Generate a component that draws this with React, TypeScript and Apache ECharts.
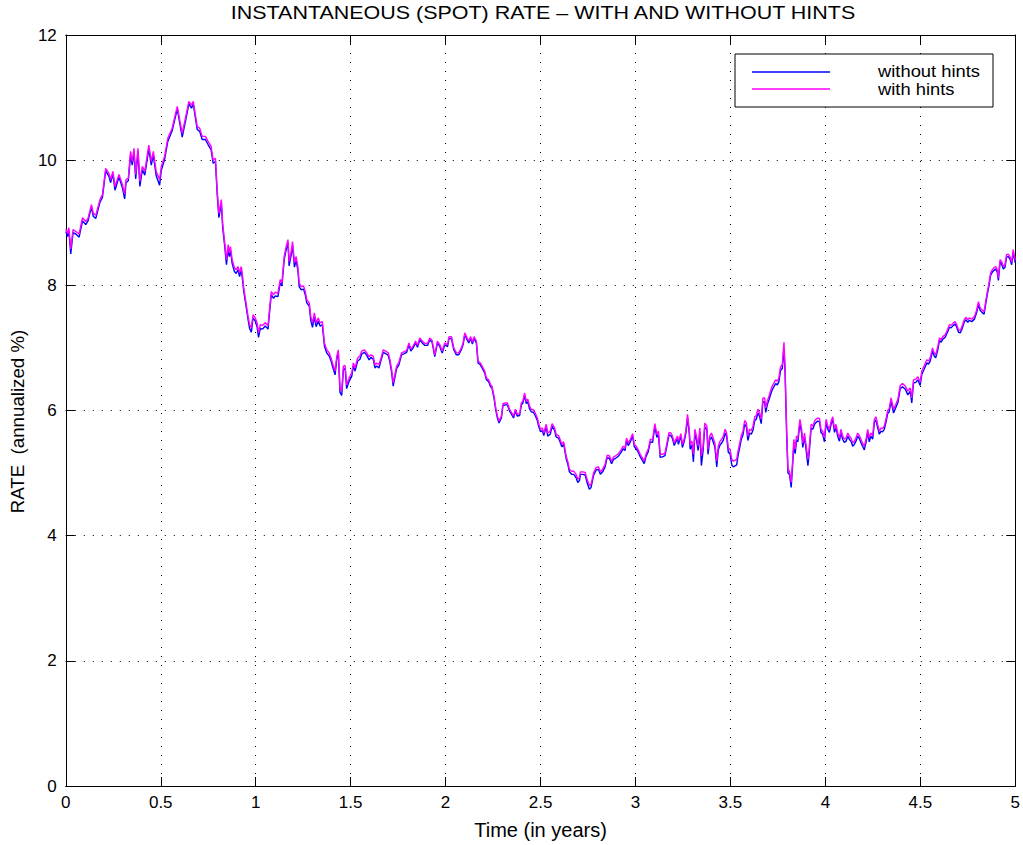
import React, { useEffect, useRef } from "react";
import * as echarts from "echarts";

const times: number[] = [
  0.000, 0.009, 0.016, 0.026, 0.038, 0.053, 0.070, 0.088, 0.105, 0.117,
  0.135, 0.145, 0.158, 0.180, 0.193, 0.210, 0.227, 0.236, 0.248, 0.259,
  0.280, 0.298, 0.310, 0.317, 0.329, 0.341, 0.350, 0.359, 0.368, 0.380,
  0.390, 0.403, 0.416, 0.437, 0.450, 0.461, 0.476, 0.494, 0.503, 0.520,
  0.537, 0.560, 0.587, 0.600, 0.613, 0.630, 0.648, 0.662, 0.671, 0.692,
  0.705, 0.718, 0.735, 0.749, 0.765, 0.776, 0.788, 0.797, 0.806, 0.819,
  0.826, 0.837, 0.846, 0.855, 0.861, 0.867, 0.876, 0.888, 0.897, 0.907,
  0.915, 0.924, 0.931, 0.936, 0.949, 0.960, 0.968, 0.977, 0.986, 0.998,
  1.007, 1.015, 1.024, 1.036, 1.050, 1.065, 1.071, 1.082, 1.094, 1.103,
  1.117, 1.129, 1.138, 1.150, 1.159, 1.170, 1.176, 1.187, 1.194, 1.204,
  1.213, 1.222, 1.229, 1.239, 1.252, 1.261, 1.269, 1.282, 1.290, 1.299,
  1.309, 1.318, 1.330, 1.339, 1.351, 1.362, 1.374, 1.387, 1.397, 1.404,
  1.418, 1.427, 1.435, 1.444, 1.453, 1.462, 1.471, 1.479, 1.492, 1.506,
  1.514, 1.523, 1.537, 1.549, 1.558, 1.572, 1.585, 1.597, 1.607, 1.619,
  1.628, 1.637, 1.649, 1.660, 1.672, 1.684, 1.698, 1.707, 1.716, 1.724,
  1.742, 1.754, 1.768, 1.782, 1.795, 1.807, 1.817, 1.829, 1.842, 1.852,
  1.864, 1.877, 1.891, 1.905, 1.917, 1.929, 1.943, 1.957, 1.970, 1.982,
  1.996, 2.010, 2.018, 2.031, 2.043, 2.057, 2.069, 2.083, 2.092, 2.101,
  2.113, 2.122, 2.132, 2.141, 2.150, 2.162, 2.171, 2.183, 2.192, 2.206,
  2.215, 2.227, 2.237, 2.244, 2.255, 2.264, 2.273, 2.281, 2.294, 2.302,
  2.315, 2.325, 2.337, 2.349, 2.358, 2.367, 2.378, 2.390, 2.399, 2.407,
  2.416, 2.425, 2.433, 2.442, 2.451, 2.463, 2.472, 2.483, 2.491, 2.500,
  2.509, 2.517, 2.530, 2.538, 2.551, 2.561, 2.574, 2.582, 2.595, 2.605,
  2.612, 2.622, 2.635, 2.643, 2.652, 2.664, 2.675, 2.687, 2.696, 2.705,
  2.710, 2.722, 2.735, 2.745, 2.757, 2.766, 2.780, 2.793, 2.805, 2.815,
  2.827, 2.840, 2.850, 2.862, 2.874, 2.885, 2.897, 2.910, 2.924, 2.936,
  2.945, 2.953, 2.962, 2.973, 2.985, 2.994, 3.003, 3.015, 3.025, 3.037,
  3.046, 3.055, 3.067, 3.078, 3.090, 3.102, 3.113, 3.121, 3.130, 3.142,
  3.155, 3.165, 3.177, 3.186, 3.195, 3.204, 3.213, 3.221, 3.226, 3.239,
  3.247, 3.256, 3.265, 3.274, 3.283, 3.288, 3.297, 3.305, 3.313, 3.321,
  3.330, 3.339, 3.347, 3.356, 3.365, 3.376, 3.382, 3.391, 3.400, 3.409,
  3.418, 3.428, 3.436, 3.445, 3.454, 3.463, 3.472, 3.480, 3.489, 3.498,
  3.507, 3.515, 3.533, 3.540, 3.549, 3.557, 3.566, 3.575, 3.584, 3.592,
  3.601, 3.610, 3.619, 3.628, 3.636, 3.645, 3.654, 3.662, 3.671, 3.680,
  3.686, 3.694, 3.703, 3.712, 3.720, 3.729, 3.738, 3.747, 3.755, 3.764,
  3.773, 3.782, 3.788, 3.796, 3.803, 3.811, 3.820, 3.827, 3.834, 3.841,
  3.848, 3.855, 3.866, 3.875, 3.881, 3.890, 3.899, 3.908, 3.915, 3.925,
  3.934, 3.943, 3.951, 3.960, 3.969, 3.977, 3.986, 3.995, 4.004, 4.013,
  4.021, 4.030, 4.039, 4.048, 4.056, 4.065, 4.074, 4.082, 4.091, 4.100,
  4.109, 4.118, 4.126, 4.135, 4.144, 4.153, 4.161, 4.170, 4.179, 4.187,
  4.196, 4.205, 4.214, 4.223, 4.231, 4.240, 4.249, 4.258, 4.266, 4.275,
  4.284, 4.293, 4.301, 4.310, 4.319, 4.328, 4.336, 4.346, 4.359, 4.371,
  4.382, 4.394, 4.406, 4.421, 4.434, 4.447, 4.455, 4.464, 4.476, 4.487,
  4.499, 4.508, 4.520, 4.534, 4.543, 4.552, 4.564, 4.573, 4.581, 4.592,
  4.601, 4.610, 4.618, 4.631, 4.643, 4.653, 4.662, 4.674, 4.683, 4.692,
  4.701, 4.710, 4.718, 4.731, 4.739, 4.750, 4.758, 4.771, 4.785, 4.797,
  4.806, 4.815, 4.827, 4.836, 4.844, 4.853, 4.862, 4.870, 4.879, 4.888,
  4.897, 4.905, 4.911, 4.920, 4.928, 4.937, 4.946, 4.954, 4.963, 4.972,
  4.981, 4.989, 5.000,
];

const withHints: number[] = [
  8.90, 8.83, 8.92, 8.58, 8.89, 8.86, 8.82, 9.08, 9.02, 9.07,
  9.29, 9.15, 9.12, 9.37, 9.45, 9.87, 9.79, 9.69, 9.82, 9.58,
  9.77, 9.61, 9.46, 9.69, 9.71, 10.14, 9.98, 10.19, 9.77, 10.19,
  9.66, 9.90, 9.82, 10.24, 9.98, 10.14, 9.82, 9.69, 9.90, 10.06,
  10.35, 10.51, 10.86, 10.64, 10.43, 10.67, 10.94, 10.88, 10.94, 10.54,
  10.51, 10.38, 10.38, 10.30, 10.22, 10.00, 10.03, 9.53, 9.15, 9.37,
  8.99, 8.68, 8.41, 8.65, 8.52, 8.62, 8.41, 8.28, 8.25, 8.30,
  8.20, 8.30, 8.14, 7.98, 7.72, 7.50, 7.37, 7.32, 7.53, 7.48,
  7.40, 7.24, 7.37, 7.36, 7.40, 7.36, 7.56, 7.90, 7.85, 7.89,
  7.87, 8.09, 8.04, 8.46, 8.60, 8.73, 8.38, 8.54, 8.70, 8.36,
  8.46, 8.30, 8.04, 7.98, 7.99, 7.90, 7.77, 7.72, 7.50, 7.40,
  7.56, 7.40, 7.48, 7.40, 7.42, 7.08, 6.97, 6.92, 6.84, 6.76,
  6.63, 6.87, 6.97, 6.36, 6.31, 6.71, 6.72, 6.41, 6.52, 6.60,
  6.76, 6.68, 6.84, 6.87, 6.95, 6.97, 6.92, 6.86, 6.89, 6.87,
  6.73, 6.76, 6.73, 6.84, 6.97, 6.95, 6.92, 6.81, 6.65, 6.44,
  6.71, 6.77, 6.92, 6.94, 6.96, 7.08, 6.98, 7.03, 7.11, 7.04,
  7.16, 7.11, 7.07, 7.07, 7.16, 7.12, 6.89, 7.11, 7.05, 6.95,
  7.08, 7.05, 7.18, 7.18, 7.00, 6.92, 6.92, 7.00, 7.08, 7.24,
  7.16, 7.11, 7.18, 7.09, 7.18, 7.11, 6.79, 6.76, 6.71, 6.63,
  6.52, 6.49, 6.41, 6.39, 6.23, 6.04, 5.91, 5.83, 5.91, 6.11,
  6.12, 6.12, 6.02, 5.96, 5.91, 6.02, 5.94, 5.95, 6.12, 6.15,
  6.28, 6.15, 6.18, 6.07, 6.02, 6.01, 5.96, 5.88, 5.78, 5.70,
  5.72, 5.64, 5.78, 5.64, 5.67, 5.79, 5.72, 5.62, 5.60, 5.52,
  5.46, 5.50, 5.27, 5.19, 5.06, 5.03, 5.03, 4.98, 4.90, 4.93,
  5.02, 5.02, 5.01, 4.90, 4.80, 4.82, 5.01, 5.09, 5.10, 5.02,
  5.06, 5.14, 5.28, 5.28, 5.19, 5.26, 5.28, 5.31, 5.37, 5.43,
  5.40, 5.56, 5.48, 5.54, 5.63, 5.46, 5.43, 5.37, 5.30, 5.24,
  5.19, 5.30, 5.38, 5.54, 5.53, 5.79, 5.62, 5.67, 5.30, 5.30,
  5.32, 5.47, 5.65, 5.64, 5.59, 5.48, 5.54, 5.59, 5.51, 5.63,
  5.46, 5.54, 5.67, 5.94, 5.70, 5.46, 5.51, 5.30, 5.70, 5.59,
  5.43, 5.72, 5.27, 5.43, 5.80, 5.75, 5.38, 5.59, 5.64, 5.56,
  5.48, 5.19, 5.43, 5.51, 5.54, 5.59, 5.70, 5.64, 5.40, 5.38,
  5.22, 5.19, 5.22, 5.35, 5.48, 5.60, 5.67, 5.84, 5.80, 5.59,
  5.70, 5.68, 5.75, 5.90, 5.92, 6.02, 5.96, 5.86, 6.20, 6.20,
  6.04, 6.15, 6.23, 6.32, 6.39, 6.44, 6.49, 6.47, 6.52, 6.70,
  6.73, 7.09, 6.65, 5.70, 5.06, 5.03, 4.85, 5.17, 5.54, 5.38,
  5.59, 5.56, 5.86, 5.70, 5.48, 5.64, 5.43, 5.22, 5.40, 5.78,
  5.75, 5.83, 5.86, 5.88, 5.87, 5.70, 5.67, 5.56, 5.86, 5.75,
  5.70, 5.83, 5.90, 5.70, 5.78, 5.64, 5.56, 5.70, 5.59, 5.54,
  5.56, 5.64, 5.59, 5.56, 5.48, 5.51, 5.56, 5.64, 5.60, 5.54,
  5.48, 5.43, 5.54, 5.70, 5.56, 5.64, 5.60, 5.86, 5.90, 5.78,
  5.67, 5.72, 5.71, 5.75, 5.86, 6.00, 6.03, 6.20, 6.02, 6.10,
  6.18, 6.40, 6.43, 6.39, 6.31, 6.36, 6.20, 6.49, 6.50, 6.54,
  6.45, 6.63, 6.71, 6.81, 6.79, 6.84, 7.00, 6.92, 6.89, 7.02,
  7.16, 7.13, 7.18, 7.21, 7.29, 7.37, 7.36, 7.40, 7.42, 7.37,
  7.29, 7.28, 7.33, 7.45, 7.49, 7.45, 7.48, 7.46, 7.50, 7.61,
  7.74, 7.64, 7.60, 7.58, 7.74, 7.90, 8.04, 8.20, 8.25, 8.28,
  8.30, 8.25, 8.12, 8.41, 8.38, 8.30, 8.33, 8.49, 8.50, 8.46,
  8.37, 8.57, 8.40,
];

const withoutHints: number[] = [
  8.86, 8.78, 8.88, 8.50, 8.84, 8.82, 8.77, 9.03, 8.97, 9.03,
  9.25, 9.10, 9.07, 9.33, 9.41, 9.83, 9.74, 9.64, 9.78, 9.52,
  9.73, 9.56, 9.38, 9.64, 9.67, 10.08, 9.92, 10.14, 9.70, 10.14,
  9.58, 9.85, 9.76, 10.18, 9.92, 10.08, 9.75, 9.60, 9.84, 10.01,
  10.30, 10.47, 10.82, 10.59, 10.37, 10.62, 10.90, 10.83, 10.90, 10.49,
  10.46, 10.33, 10.33, 10.25, 10.17, 9.95, 9.98, 9.47, 9.08, 9.31,
  8.93, 8.62, 8.33, 8.59, 8.46, 8.56, 8.35, 8.22, 8.19, 8.25,
  8.14, 8.25, 8.08, 7.93, 7.67, 7.45, 7.31, 7.25, 7.48, 7.43,
  7.34, 7.17, 7.31, 7.30, 7.35, 7.30, 7.51, 7.85, 7.79, 7.83,
  7.82, 8.04, 7.99, 8.41, 8.55, 8.68, 8.31, 8.49, 8.64, 8.29,
  8.40, 8.24, 7.98, 7.93, 7.94, 7.85, 7.72, 7.67, 7.44, 7.33,
  7.50, 7.34, 7.43, 7.35, 7.37, 7.03, 6.92, 6.87, 6.79, 6.71,
  6.57, 6.82, 6.92, 6.29, 6.24, 6.66, 6.67, 6.35, 6.47, 6.55,
  6.71, 6.63, 6.79, 6.82, 6.90, 6.93, 6.88, 6.81, 6.85, 6.82,
  6.68, 6.71, 6.68, 6.80, 6.93, 6.91, 6.88, 6.77, 6.60, 6.39,
  6.67, 6.73, 6.89, 6.91, 6.93, 7.05, 6.95, 7.00, 7.08, 7.01,
  7.13, 7.08, 7.04, 7.04, 7.13, 7.09, 6.86, 7.08, 7.02, 6.92,
  7.05, 7.02, 7.15, 7.15, 6.97, 6.89, 6.89, 6.97, 7.05, 7.21,
  7.13, 7.08, 7.15, 7.06, 7.15, 7.08, 6.76, 6.73, 6.68, 6.60,
  6.49, 6.46, 6.38, 6.36, 6.20, 6.01, 5.88, 5.80, 5.88, 6.08,
  6.09, 6.09, 5.99, 5.93, 5.88, 5.99, 5.91, 5.92, 6.09, 6.12,
  6.24, 6.11, 6.14, 6.03, 5.98, 5.97, 5.92, 5.84, 5.74, 5.66,
  5.68, 5.60, 5.74, 5.59, 5.62, 5.75, 5.68, 5.58, 5.56, 5.48,
  5.42, 5.46, 5.23, 5.15, 5.02, 4.98, 4.98, 4.93, 4.85, 4.88,
  4.98, 4.98, 4.97, 4.85, 4.74, 4.77, 4.97, 5.05, 5.06, 4.98,
  5.02, 5.10, 5.24, 5.24, 5.15, 5.22, 5.24, 5.27, 5.33, 5.39,
  5.36, 5.52, 5.44, 5.50, 5.59, 5.42, 5.39, 5.33, 5.26, 5.20,
  5.15, 5.26, 5.34, 5.50, 5.49, 5.74, 5.57, 5.62, 5.25, 5.26,
  5.28, 5.43, 5.61, 5.60, 5.55, 5.44, 5.50, 5.55, 5.46, 5.59,
  5.41, 5.50, 5.63, 5.88, 5.64, 5.38, 5.45, 5.18, 5.64, 5.53,
  5.36, 5.66, 5.12, 5.36, 5.74, 5.69, 5.30, 5.53, 5.58, 5.50,
  5.42, 5.10, 5.37, 5.45, 5.48, 5.53, 5.64, 5.58, 5.33, 5.31,
  5.13, 5.10, 5.13, 5.28, 5.41, 5.54, 5.61, 5.78, 5.74, 5.52,
  5.64, 5.62, 5.69, 5.84, 5.86, 5.96, 5.90, 5.79, 6.14, 6.14,
  5.97, 6.09, 6.17, 6.26, 6.33, 6.38, 6.43, 6.41, 6.46, 6.64,
  6.67, 7.00, 6.58, 5.62, 5.00, 4.98, 4.77, 5.10, 5.47, 5.31,
  5.53, 5.50, 5.80, 5.64, 5.41, 5.58, 5.36, 5.12, 5.33, 5.72,
  5.70, 5.78, 5.81, 5.83, 5.82, 5.65, 5.62, 5.50, 5.81, 5.70,
  5.65, 5.78, 5.85, 5.65, 5.73, 5.59, 5.51, 5.65, 5.54, 5.49,
  5.51, 5.59, 5.54, 5.51, 5.43, 5.46, 5.51, 5.59, 5.55, 5.49,
  5.43, 5.37, 5.49, 5.65, 5.50, 5.59, 5.54, 5.81, 5.85, 5.73,
  5.62, 5.67, 5.66, 5.70, 5.81, 5.95, 5.98, 6.15, 5.96, 6.05,
  6.13, 6.35, 6.38, 6.34, 6.25, 6.31, 6.12, 6.44, 6.45, 6.49,
  6.40, 6.58, 6.66, 6.76, 6.74, 6.79, 6.95, 6.87, 6.84, 6.97,
  7.12, 7.09, 7.14, 7.17, 7.25, 7.33, 7.32, 7.36, 7.38, 7.33,
  7.25, 7.24, 7.29, 7.41, 7.45, 7.41, 7.44, 7.42, 7.46, 7.57,
  7.70, 7.60, 7.56, 7.54, 7.70, 7.86, 8.00, 8.16, 8.21, 8.24,
  8.26, 8.21, 8.08, 8.37, 8.34, 8.26, 8.29, 8.45, 8.46, 8.42,
  8.33, 8.52, 8.36,
];

const seriesNames: string[] = ["without hints", "with hints"];
const seriesColors: string[] = ["#0000ff", "#ff00ff"];
const titleText = "INSTANTANEOUS (SPOT) RATE \u2013 WITH AND WITHOUT HINTS";
const xAxisName = "Time (in years)";
const yAxisName = "RATE  (annualized %)";

const FONT = "'Liberation Sans', Arial, Helvetica, sans-serif";

export default function App() {
  const ref = useRef<HTMLDivElement>(null);

  useEffect(() => {
    if (!ref.current) return;
    const chart = echarts.init(ref.current, undefined, { renderer: "svg" });

    const gridLine = { show: true, lineStyle: { color: "#000", width: 1, type: [1, 8] as number[] } };
    const tick = { show: true, inside: true, length: 9, lineStyle: { color: "#000", width: 1 } };
    const axisLine = { show: true, onZero: false, lineStyle: { color: "#000", width: 1 } };
    const label = { color: "#000", fontSize: 17, fontFamily: FONT };

    const lx = 735, ly = 54, lw = 258, lh = 53;

    chart.setOption({
      animation: false,
      backgroundColor: "#fff",
      textStyle: { fontFamily: FONT },
      grid: { left: 65, right: 6, top: 35, bottom: 58, containLabel: false },
      xAxis: [
        {
          type: "value", min: 0, max: 5, interval: 0.5, position: "bottom",
          axisLine, axisTick: tick, splitLine: gridLine,
          axisLabel: { ...label, margin: 8 },
          name: xAxisName, nameLocation: "middle", nameGap: 34,
          nameTextStyle: { color: "#000", fontSize: 20, fontFamily: FONT },
        },
        {
          type: "value", min: 0, max: 5, interval: 0.5, position: "top",
          axisLine, axisTick: tick, splitLine: { show: false },
          axisLabel: { show: false },
        },
      ],
      yAxis: [
        {
          type: "value", min: 0, max: 12, interval: 2, position: "left",
          axisLine, axisTick: tick, splitLine: gridLine,
          axisLabel: { ...label, margin: 9 },
          name: yAxisName, nameLocation: "middle", nameGap: 38, nameRotate: 90,
          nameTextStyle: { color: "#000", fontSize: 18.7, fontFamily: FONT, padding: [0, 22, 0, 0] },
        },
        {
          type: "value", min: 0, max: 12, interval: 2, position: "right",
          axisLine, axisTick: tick, splitLine: { show: false },
          axisLabel: { show: false },
        },
      ],
      series: [
        {
          name: seriesNames[0], type: "line", xAxisIndex: 0, yAxisIndex: 0,
          showSymbol: false, symbol: "none",
          lineStyle: { color: seriesColors[0], width: 1.4 },
          itemStyle: { color: seriesColors[0] },
          data: times.map((t, i) => [t, withoutHints[i]]),
        },
        {
          name: seriesNames[1], type: "line", xAxisIndex: 0, yAxisIndex: 0,
          showSymbol: false, symbol: "none",
          lineStyle: { color: seriesColors[1], width: 1.4 },
          itemStyle: { color: seriesColors[1] },
          data: times.map((t, i) => [t, withHints[i]]),
        },
      ],
      graphic: [
        {
          type: "text", x: 543, y: 12, scaleX: 1.13,
          style: { text: titleText, fill: "#000", fontSize: 19, fontFamily: FONT, textAlign: "center", textVerticalAlign: "middle" },
        },
        {
          type: "rect", shape: { x: lx, y: ly, width: lw, height: lh }, z: 100,
          style: { fill: "#fff", stroke: "#000", lineWidth: 1 },
        },
        {
          type: "line", shape: { x1: 752, y1: 72, x2: 830, y2: 72 }, z: 101,
          style: { stroke: seriesColors[0], lineWidth: 1.4 },
        },
        {
          type: "line", shape: { x1: 752, y1: 89, x2: 830, y2: 89 }, z: 101,
          style: { stroke: seriesColors[1], lineWidth: 1.4 },
        },
        {
          type: "text", x: 878, y: 71, z: 101, scaleX: 1.08,
          style: { text: seriesNames[0], fill: "#000", fontSize: 17, fontFamily: FONT, textAlign: "left", textVerticalAlign: "middle" },
        },
        {
          type: "text", x: 878, y: 89.5, z: 101, scaleX: 1.08,
          style: { text: seriesNames[1], fill: "#000", fontSize: 17, fontFamily: FONT, textAlign: "left", textVerticalAlign: "middle" },
        },
      ],
    });

    return () => chart.dispose();
  }, []);

  return (
    <div
      ref={ref}
      style={{ position: "absolute", left: 0, top: 0, width: 1023, height: 845, background: "#fff" }}
    />
  );
}
